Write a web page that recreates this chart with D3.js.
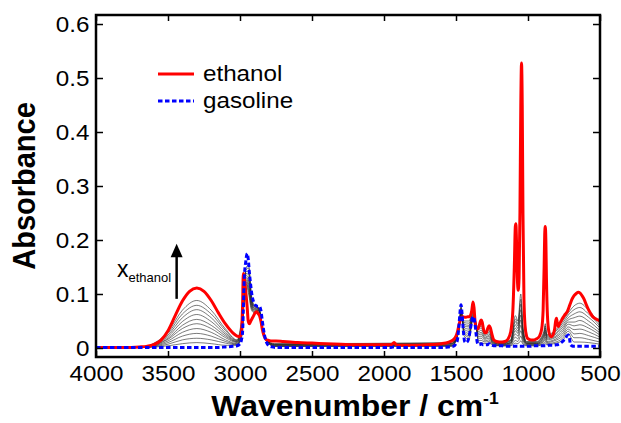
<!DOCTYPE html>
<html lang="en">
<head>
	<meta charset="UTF-8">
	<title>IR spectra ethanol / gasoline</title>
	<script src="https://cdn.jsdelivr.net/npm/d3@7"></script>
	<style>
		body { margin: 0; background: #fff; }
		text { font-family: "Liberation Sans", Arial, sans-serif; fill: #000; }
		.tick line { stroke: #000; stroke-width: 1.5; }
		.tick text { font-size: 22px; }
	</style>
</head>
<body>
	<div id="container"></div>
	<script>
		// wavenumber grid (cm-1) shared by the two pure spectra
		var wn = [4000, 3900, 3800, 3700, 3650, 3600, 3550, 3500, 3450, 3400, 3350, 3300, 3250, 3200, 3150, 3100, 3050, 3020, 3000, 2990,
			2982, 2977, 2970, 2960, 2950, 2943, 2935, 2925, 2915, 2905, 2895, 2885, 2875, 2865, 2855, 2845, 2835, 2825, 2815, 2800,
			2780, 2750, 2700, 2650, 2600, 2500, 2400, 2300, 2200, 2100, 2000, 1950, 1930, 1915, 1900, 1800, 1700, 1600, 1550, 1520,
			1500, 1490, 1480, 1470, 1465, 1460, 1450, 1440, 1430, 1420, 1410, 1400, 1390, 1382, 1375, 1368, 1360, 1350, 1340, 1330,
			1325, 1318, 1310, 1300, 1290, 1280, 1270, 1262, 1250, 1240, 1220, 1200, 1180, 1160, 1140, 1120, 1105, 1095, 1088, 1084,
			1080, 1074, 1068, 1062, 1056, 1050, 1045, 1040, 1035, 1028, 1020, 1010, 1000, 980, 960, 940, 920, 905, 895, 888,
			884, 880, 876, 872, 865, 855, 845, 835, 825, 815, 808, 802, 796, 788, 780, 770, 760, 750, 740, 730,
			720, 712, 705, 695, 680, 665, 650, 640, 625, 610, 595, 580, 565, 550, 530, 515, 500];

		var ethanol = [.001, .001, .001, .002, .003, .006, .014, .032, .060, .087, .105, .111, .105, .088, .065, .044, .028, .022, .021, .030,
			.080, .138, .130, .105, .075, .050, .045, .050, .055, .060, .065, .067, .064, .060, .050, .035, .024, .018, .015, .014,
			.013, .013, .012, .011, .010, .009, .008, .007, .006, .006, .006, .006, .010, .006, .005, .005, .006, .008, .011, .015,
			.022, .030, .042, .052, .055, .057, .058, .057, .057, .058, .058, .060, .070, .085, .075, .050, .037, .035, .040, .050,
			.052, .048, .036, .028, .028, .036, .041, .038, .025, .016, .012, .011, .011, .012, .016, .030, .070, .150, .225, .230,
			.200, .130, .107, .130, .250, .450, .528, .450, .250, .090, .040, .022, .017, .015, .015, .017, .022, .035, .070, .150,
			.210, .225, .200, .130, .060, .030, .022, .021, .025, .035, .050, .055, .045, .040, .045, .050, .055, .059, .063, .066,
			.072, .078, .083, .090, .097, .101, .103, .102, .097, .090, .080, .071, .064, .058, .054, .052, .050];

		var gasoline = [.001, .001, .001, .001, .001, .001, .001, .001, .001, .001, .001, .001, .001, .001, .001, .002, .003, .004, .008, .015,
			.030, .070, .130, .160, .175, .165, .140, .115, .095, .085, .080, .078, .076, .077, .070, .050, .032, .018, .010, .004,
			.002, .001, .001, .001, .001, .001, .001, .001, .001, .001, .001, .001, .002, .001, .001, .001, .001, .001, .002, .003,
			.008, .015, .040, .072, .080, .070, .035, .012, .010, .012, .020, .035, .050, .058, .055, .045, .025, .008, .006, .007,
			.008, .007, .006, .006, .006, .006, .008, .006, .005, .004, .004, .004, .004, .003, .003, .003, .003, .003, .003, .003,
			.003, .003, .003, .003, .003, .003, .003, .003, .003, .003, .003, .003, .003, .003, .004, .004, .004, .004, .004, .004,
			.004, .004, .004, .004, .004, .005, .005, .005, .005, .005, .006, .006, .006, .007, .008, .010, .012, .015, .018, .022,
			.024, .018, .006, .004, .003, .003, .003, .003, .003, .003, .003, .003, .003, .003, .003, .003, .003];

		// coarser grid for the mixture spectra (thin black lines)
		var wnMix = [3650, 3500, 3400, 3300, 3200, 3100, 3020, 2985, 2960, 2940, 2920, 2900, 2870, 2845, 2815, 2760,
			1530, 1480, 1465, 1445, 1410, 1382, 1365, 1345, 1325, 1300, 1272, 1240, 1180, 1120, 1088, 1070, 1050, 1035, 1010, 940,
			890, 880, 870, 820, 760, 720, 680, 640, 580, 500];

		var mixtures = [
			[.001, .004, .008, .010, .008, .005, .005, .024, .147, .154, .097, .079, .075, .040, .012, .003,
			 .003, .031, .078, .023, .016, .052, .050, .011, .010, .008, .009, .005, .004, .004, .009, .008, .013, .007, .004, .004, .007, .008, .006, .008, .014, .026, .011, .011, .010, .007],
			[.001, .007, .015, .018, .015, .009, .006, .028, .144, .148, .094, .077, .074, .039, .013, .003,
			 .004, .032, .075, .026, .020, .054, .049, .014, .014, .011, .012, .006, .004, .005, .014, .012, .022, .010, .005, .005, .009, .012, .008, .010, .018, .031, .019, .019, .016, .011],
			[.001, .010, .022, .027, .022, .012, .007, .032, .141, .142, .091, .076, .074, .039, .013, .004,
			 .004, .033, .073, .029, .023, .056, .049, .018, .018, .013, .015, .007, .005, .007, .020, .017, .032, .014, .006, .006, .012, .016, .010, .013, .022, .035, .026, .027, .023, .016],
			[.001, .013, .029, .036, .029, .015, .008, .036, .138, .136, .088, .074, .073, .038, .013, .004,
			 .005, .034, .070, .032, .027, .058, .048, .021, .022, .016, .018, .008, .006, .008, .026, .022, .042, .018, .007, .007, .014, .020, .012, .015, .026, .039, .034, .035, .030, .020],
			[.001, .016, .036, .045, .036, .019, .010, .040, .135, .130, .085, .073, .072, .038, .014, .005,
			 .006, .035, .068, .035, .031, .060, .048, .024, .026, .018, .021, .009, .007, .009, .032, .027, .052, .022, .008, .008, .017, .025, .015, .018, .030, .044, .041, .043, .037, .024],
			[.002, .018, .042, .053, .042, .022, .011, .044, .132, .124, .082, .071, .071, .037, .014, .006,
			 .007, .036, .065, .038, .035, .062, .047, .027, .029, .020, .023, .010, .007, .010, .037, .031, .061, .025, .008, .008, .020, .029, .017, .020, .034, .048, .048, .051, .043, .028],
			[.002, .021, .049, .062, .049, .025, .012, .048, .129, .118, .079, .070, .070, .037, .014, .006,
			 .008, .037, .063, .041, .039, .064, .047, .030, .033, .023, .026, .011, .008, .011, .043, .036, .071, .029, .009, .009, .022, .033, .019, .023, .038, .052, .056, .059, .050, .032],
			[.002, .024, .056, .071, .056, .028, .013, .052, .126, .112, .076, .068, .070, .036, .014, .007,
			 .008, .038, .060, .044, .042, .066, .046, .034, .037, .025, .029, .012, .009, .013, .049, .041, .081, .033, .010, .010, .025, .037, .021, .025, .042, .056, .063, .067, .057, .037],
			[.002, .027, .063, .079, .063, .032, .014, .056, .123, .106, .073, .067, .069, .036, .015, .007,
			 .009, .039, .058, .047, .046, .068, .046, .037, .041, .028, .032, .013, .009, .014, .054, .045, .090, .036, .011, .011, .027, .041, .023, .028, .046, .061, .071, .075, .063, .041],
			[.002, .030, .070, .088, .070, .035, .015, .060, .120, .100, .070, .065, .068, .035, .015, .008,
			 .010, .040, .055, .050, .050, .070, .045, .040, .045, .030, .035, .014, .010, .015, .060, .050, .100, .040, .012, .012, .030, .045, .025, .030, .050, .065, .078, .083, .070, .045]
		];

		var xTicks = [4000, 3500, 3000, 2500, 2000, 1500, 1000, 500];
		var yTicks = [0, 0.1, 0.2, 0.3, 0.4, 0.5, 0.6];
		var seriesNames = ["ethanol", "gasoline"];

		var width = 621, height = 423;
		var plot = { left: 96, right: 600, top: 15, bottom: 357 };
		var stretch = 1.1; // the figure's lettering is a little wide

		var svg = d3.select("#container").append("svg")
			.attr("width", width)
			.attr("height", height);

		var x = d3.scaleLinear().domain([4000, 500]).range([plot.left, plot.right]);
		var y = d3.scaleLinear().domain([-0.0167, 0.6167]).range([plot.bottom, plot.top]);

		svg.append("clipPath").attr("id", "clip")
			.append("rect")
			.attr("x", plot.left).attr("y", plot.top)
			.attr("width", plot.right - plot.left).attr("height", plot.bottom - plot.top);

		var g = svg.append("g").attr("clip-path", "url(#clip)");

		var line = d3.line()
			.x(function(d) { return x(d[0]); })
			.y(function(d) { return y(d[1]); })
			.curve(d3.curveMonotoneX);

		// mixtures
		mixtures.forEach(function(m) {
			var pts = wnMix.map(function(w, i) { return [w, m[i]]; });
			g.append("path")
				.attr("d", line(pts))
				.attr("fill", "none")
				.attr("stroke", "#222")
				.attr("stroke-width", 0.6);
		});

		var ethPts = wn.map(function(w, i) { return [w, ethanol[i]]; });
		var gasPts = wn.map(function(w, i) { return [w, gasoline[i]]; });

		g.append("path")
			.attr("d", line(ethPts))
			.attr("fill", "none")
			.attr("stroke", "#ff0000")
			.attr("stroke-width", 3);

		g.append("path")
			.attr("d", line(gasPts))
			.attr("fill", "none")
			.attr("stroke", "#0000ff")
			.attr("stroke-width", 3)
			.attr("stroke-dasharray", "4.5,2.5");

		// axes with inward ticks
		var xb = svg.append("g")
			.attr("transform", "translate(0," + plot.bottom + ")")
			.call(d3.axisBottom(x).tickValues(xTicks).tickSize(-6).tickPadding(8).tickFormat(d3.format("d")));
		xb.select(".domain").remove();
		xb.selectAll(".tick text").attr("transform", "scale(" + stretch + ",1)");

		var xtop = svg.append("g")
			.attr("transform", "translate(0," + plot.top + ")")
			.call(d3.axisTop(x).tickValues(xTicks).tickSize(-6).tickFormat(""));
		xtop.select(".domain").remove();

		var yl = svg.append("g")
			.attr("transform", "translate(" + plot.left + ",0)")
			.call(d3.axisLeft(y).tickValues(yTicks).tickSize(-7).tickPadding(0)
				.tickFormat(function(d) { return d === 0 ? "0" : d3.format(".1f")(d); }));
		yl.select(".domain").remove();
		yl.selectAll(".tick text").attr("x", -6).attr("transform", "scale(" + stretch + ",1)");

		var yr = svg.append("g")
			.attr("transform", "translate(" + plot.right + ",0)")
			.call(d3.axisRight(y).tickValues(yTicks).tickSize(-7).tickFormat(""));
		yr.select(".domain").remove();

		svg.append("rect")
			.attr("x", plot.left).attr("y", plot.top)
			.attr("width", plot.right - plot.left).attr("height", plot.bottom - plot.top)
			.attr("fill", "none")
			.attr("stroke", "#000")
			.attr("stroke-width", 2.5);

		// axis titles
		svg.append("text")
			.attr("transform", "translate(35," + (plot.top + plot.bottom) / 2 + ") rotate(-90) scale(1,1.1)")
			.attr("text-anchor", "middle")
			.attr("font-size", 29)
			.attr("font-weight", "bold")
			.text("Absorbance");

		var xt = svg.append("text")
			.attr("transform", "translate(" + (plot.left + plot.right + 14) / 2 + ",416) scale(" + stretch + ",1)")
			.attr("text-anchor", "middle")
			.attr("font-size", 29)
			.attr("font-weight", "bold");
		xt.append("tspan").text("Wavenumber / cm");
		xt.append("tspan").attr("dy", -12).attr("font-size", 16).text("-1");

		// legend
		var legend = svg.append("g").attr("transform", "translate(158,74)");
		seriesNames.forEach(function(name, i) {
			legend.append("line")
				.attr("x1", 0).attr("x2", 36)
				.attr("y1", i * 27).attr("y2", i * 27)
				.attr("stroke", i === 0 ? "#ff0000" : "#0000ff")
				.attr("stroke-width", 3)
				.attr("stroke-dasharray", i === 0 ? null : "4.5,2.5");
			legend.append("text")
				.attr("transform", "translate(45," + (i * 27 + 7) + ") scale(" + stretch + ",1)")
				.attr("font-size", 22)
				.text(name);
		});

		// x_ethanol arrow
		var ann = svg.append("text")
			.attr("x", 117).attr("y", 277)
			.attr("font-size", 23);
		ann.append("tspan").text("x");
		ann.append("tspan").attr("dy", 5).attr("font-size", 13).text("ethanol");

		var ax = x(3440);
		svg.append("line")
			.attr("x1", ax).attr("x2", ax)
			.attr("y1", y(0.091)).attr("y2", y(0.17))
			.attr("stroke", "#000").attr("stroke-width", 2.5);
		svg.append("path")
			.attr("d", "M" + (ax - 6) + "," + y(0.168) + "L" + ax + "," + y(0.193) + "L" + (ax + 6) + "," + y(0.168) + "Z")
			.attr("fill", "#000");
	</script>
</body>
</html>
